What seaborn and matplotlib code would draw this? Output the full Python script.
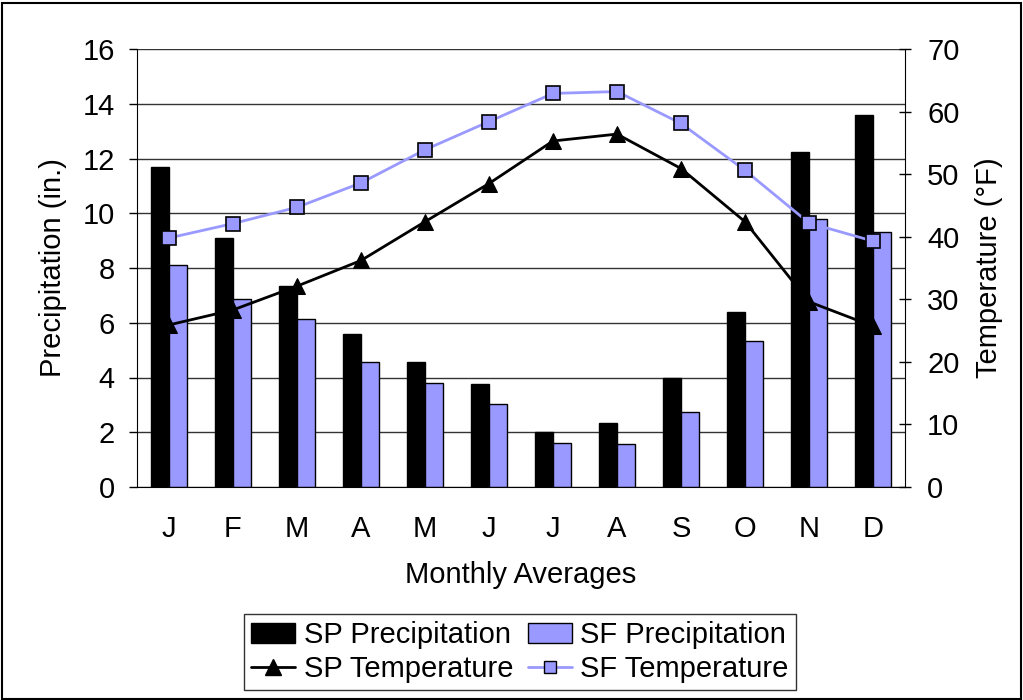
import numpy as np
import pandas as pd
import matplotlib
matplotlib.use("Agg")
import matplotlib.pyplot as plt
from matplotlib.patches import Rectangle
from matplotlib.lines import Line2D
import seaborn as sns

months = ["J", "F", "M", "A", "M", "J", "J", "A", "S", "O", "N", "D"]
sp_precip = [11.7, 9.1, 7.35, 5.6, 4.55, 3.75, 2.0, 2.35, 4.0, 6.4, 12.25, 13.6]
sf_precip = [8.1, 6.85, 6.15, 4.55, 3.8, 3.05, 1.6, 1.57, 2.75, 5.35, 9.8, 9.3]
sp_temp = [25.9, 28.3, 32.1, 36.2, 42.4, 48.5, 55.3, 56.4, 50.9, 42.4, 29.6, 25.7]
sf_temp = [39.8, 42.1, 44.7, 48.6, 53.9, 58.4, 62.9, 63.2, 58.1, 50.6, 42.2, 39.3]

sns.set_style("white")
plt.rcParams['font.family'] = ['Liberation Sans', 'DejaVu Sans']
plt.rcParams['text.color'] = 'black'
plt.rcParams['axes.labelcolor'] = 'black'
plt.rcParams['xtick.color'] = 'black'
plt.rcParams['ytick.color'] = 'black'

FS = 21
blue = "#9999FF"

fig = plt.figure(figsize=(10.23, 7.0), dpi=100)
ax = fig.add_axes([137/1023, 1-487/700, (905-137)/1023, (487-49)/700])

pos = [f"{i:02d}" for i in range(12)]
df = pd.DataFrame({
    "pos": pos * 2,
    "value": sp_precip + sf_precip,
    "series": ["SP Precipitation"] * 12 + ["SF Precipitation"] * 12,
})
sns.barplot(data=df, x="pos", y="value", hue="series",
            palette={"SP Precipitation": "black", "SF Precipitation": blue},
            width=0.57, dodge=True, edgecolor="black", linewidth=1.0,
            saturation=1, legend=False, ax=ax, zorder=2)

ax.set_ylim(0, 16)
ax.set_xlim(-0.5, 11.5)
ax.set_yticks(np.arange(0, 17, 2))
ax.yaxis.grid(True, color="#333333", linewidth=1.0)
ax.set_axisbelow(True)
ax.set_xticks(np.arange(12))
ax.set_xticklabels(months, fontsize=FS)
ax.tick_params(axis="x", which="major", length=0, pad=20)
ax.set_xticks(np.arange(-0.5, 12, 1), minor=True)
ax.tick_params(axis="x", which="minor", length=8, direction="inout", width=1, color="black")
ax.tick_params(axis="y", labelsize=FS, length=6, direction="out", width=1, color="black",
               left=True, pad=10)
ax.set_xlabel("Monthly Averages", fontsize=FS, labelpad=13)
ax.set_ylabel("Precipitation (in.)", fontsize=FS, labelpad=11)
ax.spines["top"].set_visible(False)
ax.spines["right"].set_visible(False)
ax.spines["left"].set_color("black")
ax.spines["bottom"].set_color("black")

ax2 = ax.twinx()
x = np.arange(12)
sns.lineplot(x=x, y=sp_temp, ax=ax2, color="black", marker="^", markersize=12,
             markeredgecolor="black", linewidth=2, zorder=5)
sns.lineplot(x=x, y=sf_temp, ax=ax2, color=blue, marker="s", markersize=10,
             markerfacecolor=blue, markeredgecolor="black", markeredgewidth=1.2,
             linewidth=2, zorder=5)
ax2.set_ylim(0, 70)
ax2.set_xlim(-0.5, 11.5)
ax2.set_yticks(np.arange(0, 71, 10))
ax2.tick_params(axis="y", labelsize=FS, length=8, direction="inout", width=1, color="black",
                right=True, pad=12)
ax2.set_ylabel("Temperature (°F)", fontsize=FS, labelpad=11)
ax2.grid(False)
ax2.spines["top"].set_visible(False)
ax2.spines["left"].set_visible(False)
ax2.spines["bottom"].set_visible(False)
ax2.spines["right"].set_color("black")

handles = [
    Rectangle((0, 0), 1, 1, facecolor="black", edgecolor="black"),
    Line2D([], [], color="black", marker="^", markersize=12, linewidth=2),
    Rectangle((0, 0), 1, 1, facecolor=blue, edgecolor="black"),
    Line2D([], [], color=blue, marker="s", markersize=9, markerfacecolor=blue,
           markeredgecolor="black", linewidth=2),
]
labels = ["SP Precipitation", "SP Temperature", "SF Precipitation", "SF Temperature"]
leg = fig.legend(handles, labels, ncol=2, loc="center", bbox_to_anchor=(520/1023, 1-652/700),
                 fontsize=FS, frameon=True, fancybox=False, edgecolor="black",
                 handlelength=1.5, handletextpad=0.3, columnspacing=0.5,
                 labelspacing=0.2, borderpad=0.25)
leg.get_frame().set_linewidth(1.0)

fig.patches.append(Rectangle((2/1023, 0.002), 1 - 4/1023, 0.994, transform=fig.transFigure,
                             fill=False, edgecolor="black", linewidth=1.5))

fig.savefig("out.png", dpi=100)
